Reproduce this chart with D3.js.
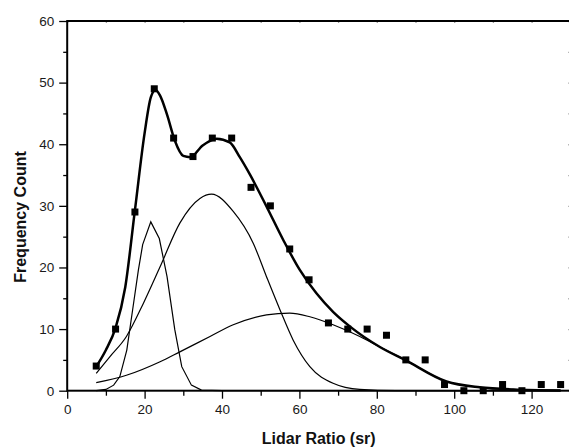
<!DOCTYPE html>
<html>
<head>
<meta charset="utf-8">
<script src="https://cdn.jsdelivr.net/npm/d3@7"></script>
<style>
  body { margin: 0; background: #fff; }
  svg { display: block; }
  .tick text { font-family: "Liberation Sans", Arial, sans-serif; font-size: 13.5px; fill: #1a1a1a; }
  .title { font-family: "Liberation Sans", Arial, sans-serif; font-size: 16px; font-weight: bold; fill: #111; }
</style>
</head>
<body>
<svg id="chart" width="569" height="447"></svg>
<script>
// measured histogram (bin centres, counts)
const binX = [7.5, 12.5, 17.5, 22.5, 27.5, 32.5, 37.5, 42.5, 47.5, 52.5, 57.5, 62.5, 67.5,
  72.5, 77.5, 82.5, 87.5, 92.5, 97.5, 102.5, 107.5, 112.5, 117.5, 122.5, 127.5];
const counts = [4, 10, 29, 49, 41, 38, 41, 41, 33, 30, 23, 18, 11,
  10, 10, 9, 5, 5, 1, 0, 0, 1, 0, 1, 1];

// fitted curves as [x, y]
const fitSum = [[7.5, 3.9], [10, 6.6], [12.5, 10.2], [15, 16.8], [17.5, 29.3], [20, 41.8],
  [21.6, 47.6], [22.8, 48.8], [24, 47.9], [25.8, 44.8], [27.8, 40.6], [30, 38.1], [31.8, 37.9],
  [35, 39.8], [38.6, 40.9], [42, 40.3], [44.6, 37.9], [47.2, 35.1], [51.5, 29.9], [55.8, 24.5],
  [60.1, 19.6], [64.4, 15.8], [68.7, 12.8], [73.1, 10.4], [80.8, 7.1], [87.3, 5.0], [98, 1.5],
  [106.6, 0.55], [115.2, 0.2], [127.5, 0.05]];
const peak1 = [[7.5, 0], [10, 0.2], [12, 0.9], [13.6, 2.3], [15.4, 6.6], [16.9, 13.1], [18.4, 19.6],
  [19.5, 23.7], [21.6, 27.4], [23.8, 24.7], [25.8, 18.5], [27.8, 9.9], [29.6, 3.9], [32.1, 0.9],
  [34.7, 0.1], [40, 0], [127.5, 0]];
const peak2 = [[7.5, 2.8], [11, 5.5], [15.3, 8.8], [19.7, 14.2], [24, 20.1], [29.1, 27.2], [34.3, 31.2],
  [37.3, 31.9], [42.9, 29.1], [48.1, 23.9], [51.5, 18.5], [55, 13.1], [58.4, 8.2], [62.7, 3.9],
  [68.7, 1.2], [75.6, 0.2], [85, 0], [127.5, 0]];
const peak3 = [[7.5, 1.3], [15.3, 2.5], [24, 4.7], [29.1, 6.3], [36.9, 8.8], [42.9, 10.7], [51.5, 12.3],
  [57.5, 12.6], [62.7, 12.0], [68.7, 10.7], [75.6, 8.8], [80.8, 7.1], [87.3, 5.0], [98, 1.5],
  [106.6, 0.55], [115.2, 0.2], [127.5, 0.05]];

const xMajor = [0, 20, 40, 60, 80, 100, 120];
const xMinor = [10, 30, 50, 70, 90, 110, 130];
const yMajor = [0, 10, 20, 30, 40, 50, 60];
const yMinor = [5, 15, 25, 35, 45, 55];

const svg = d3.select("#chart");
const plotL = 67.2, plotR = 570.3, plotT = 21, plotB = 390.7;

const x = d3.scaleLinear().domain([0, 130]).range([plotL, plotR]);
const y = d3.scaleLinear().domain([0, 60]).range([plotB, plotT]);

// axes - outside ticks bottom/left
svg.append("g").attr("transform", `translate(0,${plotB})`)
  .call(d3.axisBottom(x).tickValues(xMajor).tickSize(8).tickPadding(6).tickFormat(d3.format("d")))
  .call(g => g.select(".domain").remove());
svg.append("g").attr("transform", `translate(0,${plotB})`)
  .call(d3.axisBottom(x).tickValues(xMinor.filter(d => d < 130)).tickSize(5).tickFormat(""))
  .call(g => g.select(".domain").remove());
svg.append("g").attr("transform", `translate(${plotL},0)`)
  .call(d3.axisLeft(y).tickValues(yMajor).tickSize(8).tickPadding(5).tickFormat(d3.format("d")))
  .call(g => g.select(".domain").remove());
svg.append("g").attr("transform", `translate(${plotL},0)`)
  .call(d3.axisLeft(y).tickValues(yMinor).tickSize(4).tickFormat(""))
  .call(g => g.select(".domain").remove());

// inner ticks on top and right
svg.append("g").attr("transform", `translate(0,${plotT})`)
  .call(d3.axisBottom(x).tickValues(xMajor.concat(xMinor)).tickSize(2).tickFormat(""))
  .call(g => g.select(".domain").remove())
  .selectAll("line").attr("stroke", "#999");
svg.append("g").attr("transform", `translate(${plotR},0)`)
  .call(d3.axisRight(y).tickValues(yMajor.concat(yMinor)).tickSize(-2).tickFormat(""))
  .call(g => g.select(".domain").remove())
  .selectAll("line").attr("stroke", "#999");

svg.selectAll(".tick line").attr("stroke-width", 1.3);

// frame
svg.append("rect")
  .attr("x", plotL).attr("y", plotT)
  .attr("width", plotR - plotL).attr("height", plotB - plotT)
  .attr("fill", "none").attr("stroke", "#000").attr("stroke-width", 2);

// curves
const line = d3.line().x(d => x(d[0])).y(d => y(d[1]));
const smooth = d3.line().x(d => x(d[0])).y(d => y(d[1])).curve(d3.curveMonotoneX);

svg.append("path").datum(peak1).attr("d", line)
  .attr("fill", "none").attr("stroke", "#000").attr("stroke-width", 1.2);
svg.append("path").datum(peak2).attr("d", smooth)
  .attr("fill", "none").attr("stroke", "#000").attr("stroke-width", 1.2);
svg.append("path").datum(peak3).attr("d", smooth)
  .attr("fill", "none").attr("stroke", "#000").attr("stroke-width", 1.2);
svg.append("path").datum(fitSum).attr("d", smooth)
  .attr("fill", "none").attr("stroke", "#000").attr("stroke-width", 2.5);

// data squares
const sq = 7;
svg.append("g").selectAll("rect")
  .data(binX.map((d, i) => [d, counts[i]]))
  .join("rect")
  .attr("x", d => x(d[0]) - sq / 2)
  .attr("y", d => y(d[1]) - sq / 2)
  .attr("width", sq).attr("height", sq)
  .attr("fill", "#000");

// titles
svg.append("text").attr("class", "title")
  .attr("x", (plotL + plotR) / 2).attr("y", 444)
  .attr("text-anchor", "middle")
  .text("Lidar Ratio (sr)");
svg.append("text").attr("class", "title")
  .attr("transform", `translate(26,217) rotate(-90)`)
  .attr("text-anchor", "middle")
  .text("Frequency Count");
</script>
</body>
</html>
